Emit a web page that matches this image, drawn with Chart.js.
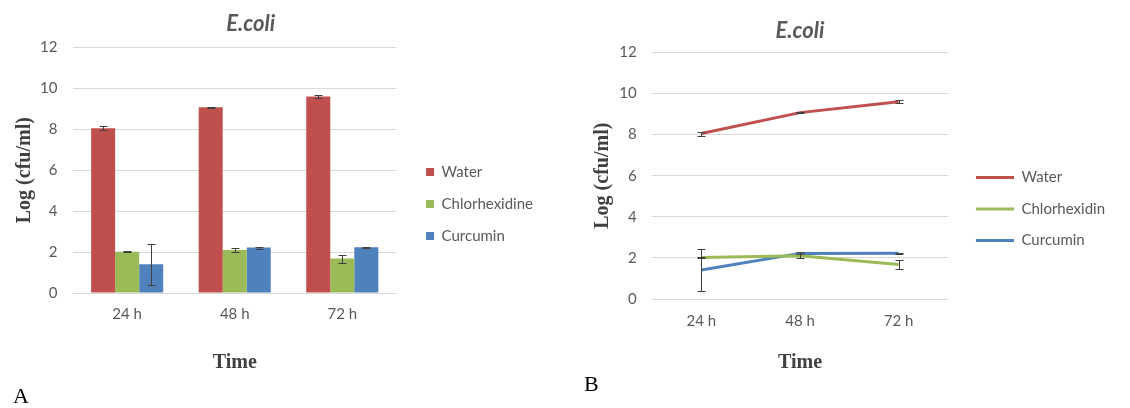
<!DOCTYPE html>
<html>
<head>
<meta charset="utf-8">
<script src="https://cdn.jsdelivr.net/npm/chart.js@4.4.1/dist/chart.umd.min.js"></script>
<style>
  body { margin: 0; width: 1130px; height: 408px; overflow: hidden; background: #fff; position: relative; }
  canvas { position: absolute; }
  #chartA { left: 0; top: 0; }
  #chartB { left: 580px; top: 5px; }
  .panel { position: absolute; font-family: 'Liberation Serif', serif; font-size: 22px; color: #000; }
</style>
</head>
<body>
<canvas id="chartA" width="543" height="408"></canvas>
<canvas id="chartB" width="535" height="408"></canvas>
<div class="panel" style="left:13px; top:383px;">A</div>
<div class="panel" style="left:584px; top:371px;">B</div>
<script>
// time points
const times = ['24 h', '48 h', '72 h'];

// mean log (cfu/ml) and error for each group
const water = [8.05, 9.07, 9.6];
const waterErr = [0.1, 0.04, 0.06];
const chlorhexidine = [2.02, 2.1, 1.68];
const chlorhexidineErr = [0.03, 0.1, 0.2];
const curcumin = [1.41, 2.22, 2.23];
const curcuminErr = [1.0, 0.05, 0.03];

const red = '#C0504D';
const green = '#9BBB59';
const blue = '#4F81BD';

Chart.defaults.font.family = 'Lato';
Chart.defaults.font.size = 15;
Chart.defaults.color = '#595959';

// draws the +/- error whiskers on top of bars / lines
const errorBars = {
    id: 'errorBars',
    afterDatasetsDraw(chart) {
        const ctx = chart.ctx;
        const y = chart.scales.y;
        ctx.save();
        ctx.strokeStyle = '#404040';
        ctx.lineWidth = 1;
        chart.data.datasets.forEach((ds, i) => {
            chart.getDatasetMeta(i).data.forEach((el, j) => {
                const top = Math.round(y.getPixelForValue(ds.data[j] + ds.errors[j])) + 0.5;
                const bot = Math.round(y.getPixelForValue(ds.data[j] - ds.errors[j])) + 0.5;
                const x = Math.round(el.x) + 0.5;
                ctx.beginPath();
                ctx.moveTo(x, top); ctx.lineTo(x, bot);
                ctx.moveTo(x - 4, top); ctx.lineTo(x + 4, top);
                ctx.moveTo(x - 4, bot); ctx.lineTo(x + 4, bot);
                ctx.stroke();
            });
        });
        ctx.restore();
    }
};

// move title sideways a bit (Excel centres it a little differently)
const titleShift = {
    id: 'titleShift',
    afterLayout(chart, args, opts) {
        if (chart.titleBlock && opts.dx) {
            chart.titleBlock.left += opts.dx;
            chart.titleBlock.right += opts.dx;
        }
    }
};

function makeOptions(p) {
    return {
        responsive: false,
        animation: false,
        layout: { padding: 0 },
        plugins: {
            title: {
                display: true,
                text: 'E.coli',
                fullSize: false,
                color: '#595959',
                font: { size: 22, weight: 'bold', style: 'italic' },
                padding: { top: p.titleTop, bottom: p.titleBottom }
            },
            titleShift: { dx: p.titleDx },
            legend: {
                position: 'right',
                maxWidth: 400,
                labels: p.legendLabels
            },
            tooltip: { enabled: false }
        },
        scales: {
            x: {
                offset: true,
                grid: { display: false },
                border: { display: false },
                ticks: { padding: p.xTickPad, color: '#595959' },
                title: {
                    display: true,
                    text: 'Time',
                    color: '#404040',
                    font: { family: 'Liberation Serif', size: 20, weight: 'bold' },
                    padding: { top: p.xTitleTop, bottom: p.xTitleBottom }
                }
            },
            y: {
                min: 0,
                max: 12,
                ticks: { stepSize: 2, padding: p.yTickPad, color: '#595959' },
                grid: { color: '#d9d9d9', drawTicks: false },
                border: { display: false },
                title: {
                    display: true,
                    text: 'Log (cfu/ml)',
                    color: '#404040',
                    font: { family: 'Liberation Serif', size: 20, weight: 'bold' },
                    padding: { top: p.yTitleTop, bottom: p.yTitleBottom }
                }
            },
            // empty axis, only keeps a gap between plot and legend
            gap: {
                type: 'linear',
                position: 'right',
                grid: { display: false },
                border: { display: false },
                ticks: { display: false },
                afterFit(scale) { scale.width = p.gap; }
            }
        }
    };
}

new Chart(document.getElementById('chartA'), {
    type: 'bar',
    data: {
        labels: times,
        datasets: [
            { label: 'Water', data: water, errors: waterErr, backgroundColor: red },
            { label: 'Chlorhexidine', data: chlorhexidine, errors: chlorhexidineErr, backgroundColor: green },
            { label: 'Curcumin', data: curcumin, errors: curcuminErr, backgroundColor: blue }
        ].map(d => Object.assign(d, { barPercentage: 1, categoryPercentage: 0.67 }))
    },
    options: makeOptions({
        titleTop: 11, titleBottom: 10, titleDx: 16,
        xTickPad: 4, xTitleTop: 24, xTitleBottom: 33,
        yTickPad: 16, yTitleTop: 13, yTitleBottom: -13,
        gap: 13,
        legendLabels: { boxWidth: 8, boxHeight: 8, padding: 17, color: '#595959' }
    }),
    plugins: [errorBars, titleShift]
});

new Chart(document.getElementById('chartB'), {
    type: 'line',
    data: {
        labels: times,
        datasets: [
            { label: 'Water', data: water, errors: waterErr, borderColor: red, backgroundColor: red },
            { label: 'Chlorhexidin', data: chlorhexidine, errors: chlorhexidineErr, borderColor: green, backgroundColor: green },
            { label: 'Curcumin', data: curcumin, errors: curcuminErr, borderColor: blue, backgroundColor: blue }
        ].map(d => Object.assign(d, { borderWidth: 3, pointRadius: 0, tension: 0 }))
    },
    options: makeOptions({
        titleTop: 13, titleBottom: 8, titleDx: 0,
        xTickPad: 5.5, xTitleTop: 15, xTitleBottom: 38,
        yTickPad: 15.3, yTitleTop: 11, yTitleBottom: -11,
        gap: 11.5,
        legendLabels: { usePointStyle: true, pointStyle: 'line', pointStyleWidth: 38, padding: 16.5, color: '#595959' }
    }),
    plugins: [errorBars]
});
</script>
</body>
</html>
